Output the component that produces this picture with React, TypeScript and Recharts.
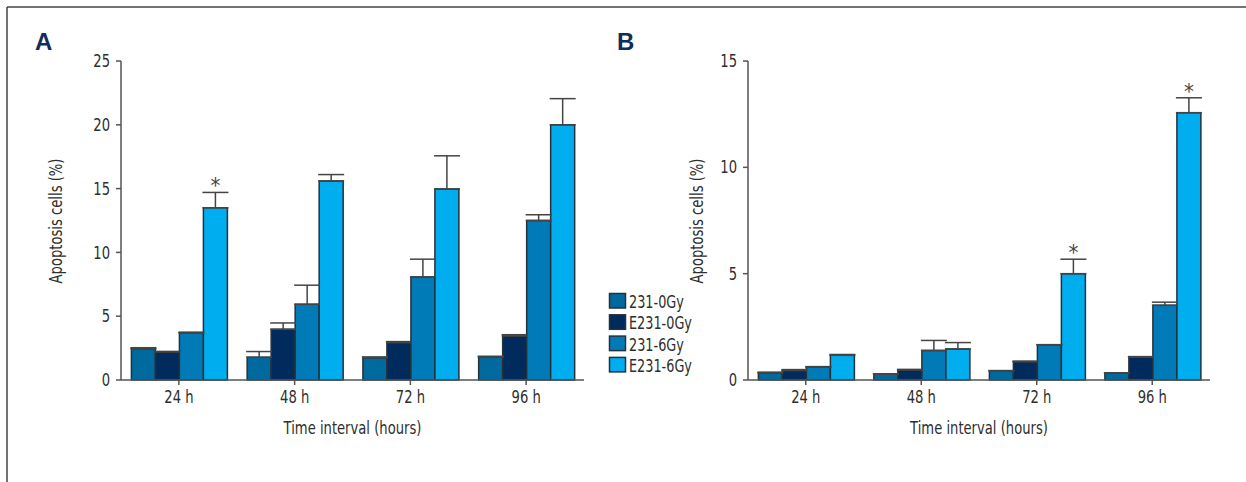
import React from 'react';
import { BarChart, Bar, XAxis, YAxis, ErrorBar, LabelList } from 'recharts';

const categories = ['24 h', '48 h', '72 h', '96 h'];
const seriesNames = ['231-0Gy', 'E231-0Gy', '231-6Gy', 'E231-6Gy'];
const seriesColors = ['#006a9e', '#002b5c', '#007bb7', '#00aeef'];

// Panel A values (mean) and upper error (SD)
const a231_0 = [2.45, 1.78, 1.75, 1.8];
const aE231_0 = [2.2, 3.97, 2.93, 3.45];
const a231_6 = [3.7, 5.93, 8.07, 12.5];
const aE231_6 = [13.5, 15.6, 14.97, 20.0];
const a231_0Err = [0.08, 0.45, 0.06, 0.06];
const aE231_0Err = [0.04, 0.5, 0.08, 0.1];
const a231_6Err = [0.05, 1.5, 1.4, 0.45];
const aE231_6Err = [1.2, 0.5, 2.6, 2.05];
const starsA = ['*', '', '', ''];
const ticksA = [0, 5, 10, 15, 20, 25];

// Panel B values
const b231_0 = [0.34, 0.27, 0.44, 0.34];
const bE231_0 = [0.45, 0.47, 0.86, 1.07];
const b231_6 = [0.6, 1.39, 1.66, 3.51];
const bE231_6 = [1.16, 1.46, 5.0, 12.57];
const b231_0Err = [0.03, 0.02, 0, 0];
const bE231_0Err = [0.04, 0.03, 0.03, 0.03];
const b231_6Err = [0.03, 0.47, 0, 0.15];
const bE231_6Err = [0.04, 0.3, 0.68, 0.7];
const starsB = ['', '', '*', '*'];
const ticksB = [0, 5, 10, 15];

const yTitle = 'Apoptosis cells (%)';
const xTitle = 'Time interval (hours)';

const FONT = "'DejaVu Sans Condensed', 'Liberation Sans Narrow', 'Arial Narrow', sans-serif";
const TEXT = '#2e2e2e';
const AXIS = '#555';
const SQUEEZE = 0.86;

type Row = { [k: string]: any };

function makeRows(vals: number[][], errs: number[][], stars: string[]): Row[] {
  return categories.map((c, i) => {
    const r: Row = { cat: c, star: stars[i] };
    vals.forEach((v, k) => {
      r[`v${k}`] = v[i];
      r[`e${k}`] = [0, errs[k][i]];
    });
    return r;
  });
}

const rowsA = makeRows([a231_0, aE231_0, a231_6, aE231_6], [a231_0Err, aE231_0Err, a231_6Err, aE231_6Err], starsA);
const rowsB = makeRows([b231_0, bE231_0, b231_6, bE231_6], [b231_0Err, bE231_0Err, b231_6Err, bE231_6Err], starsB);

const CHART_H = 482;
const TOP = 61;
const BOTTOM = 72;
const XH = 30;
const PLOT_H = CHART_H - TOP - BOTTOM - XH;

function XTick(p: any) {
  return (
    <g transform={`translate(${p.x},${p.y})`}>
      <text transform={`scale(${SQUEEZE},1)`} textAnchor="middle" dy="0.75em" fontSize={17} fill={TEXT} fontFamily={FONT}>
        {p.payload.value}
      </text>
    </g>
  );
}

function YTick(p: any) {
  return (
    <g transform={`translate(${p.x},${p.y})`}>
      <text transform={`scale(${SQUEEZE},1)`} textAnchor="end" dy="0.36em" fontSize={17} fill={TEXT} fontFamily={FONT}>
        {p.payload.value}
      </text>
    </g>
  );
}

function Panel(props: {
  rows: Row[];
  errs: number[];
  ticks: number[];
  width: number;
  left: number;
  right: number;
}) {
  const { rows, errs, ticks, width, left, right } = props;
  const max = ticks[ticks.length - 1];
  const renderStar = (p: any) => {
    const { x, y, width: w, value, index } = p;
    if (!value) return null;
    const errPx = (errs[index] * PLOT_H) / max;
    return (
      <text x={Number(x) + Number(w) / 2} y={Number(y) - errPx + 1} textAnchor="middle" fontSize={22} fill="#444" fontFamily={FONT}>
        {value}
      </text>
    );
  };
  return (
    <BarChart
      width={width}
      height={CHART_H}
      data={rows}
      margin={{ top: TOP, right, bottom: BOTTOM, left }}
      barCategoryGap="9%"
      barGap={0}
    >
      <XAxis
        dataKey="cat"
        height={XH}
        tickSize={5}
        tickMargin={5}
        axisLine={{ stroke: AXIS, strokeWidth: 1.5 }}
        tickLine={{ stroke: AXIS, strokeWidth: 1.5 }}
        tick={<XTick />}
      />
      <YAxis
        width={40}
        domain={[0, max]}
        ticks={ticks}
        tickSize={5}
        tickMargin={6}
        axisLine={{ stroke: AXIS, strokeWidth: 1.5 }}
        tickLine={{ stroke: AXIS, strokeWidth: 1.5 }}
        tick={<YTick />}
      />
      {seriesNames.map((name, k) => (
        <Bar
          key={name}
          name={name}
          dataKey={`v${k}`}
          fill={seriesColors[k]}
          stroke="#26313a"
          strokeWidth={1.5}
          isAnimationActive={false}
        >
          <ErrorBar dataKey={`e${k}`} width={13} stroke="#444" strokeWidth={1.5} direction="y" />
          {k === 3 ? <LabelList dataKey="star" content={renderStar} /> : null}
        </Bar>
      ))}
    </BarChart>
  );
}

function Title(p: { x: number; y: number; rotate?: boolean; children: string }) {
  const t = p.rotate ? `translate(${p.x},${p.y}) rotate(-90) scale(${SQUEEZE},1)` : `translate(${p.x},${p.y}) scale(${SQUEEZE},1)`;
  return (
    <text transform={t} textAnchor="middle" dy={p.rotate ? '0.36em' : 0} fontSize={17} fill={TEXT} fontFamily={FONT}>
      {p.children}
    </text>
  );
}

export default function App() {
  return (
    <div style={{ position: 'absolute', left: 0, top: 0, width: 1246, height: 482, background: '#fff', overflow: 'hidden' }}>
      <div style={{ position: 'absolute', left: 0, top: 0 }}>
        <Panel rows={rowsA} errs={aE231_6Err} ticks={ticksA} width={600} left={81} right={16} />
      </div>
      <div style={{ position: 'absolute', left: 600, top: 0 }}>
        <Panel rows={rowsB} errs={bE231_6Err} ticks={ticksB} width={646} left={108} right={36} />
      </div>
      <svg width={1246} height={482} style={{ position: 'absolute', left: 0, top: 0, pointerEvents: 'none' }}>
        <line x1={7} y1={7} x2={1246} y2={7} stroke="#444" strokeWidth={1.5} />
        <line x1={7} y1={7} x2={7} y2={482} stroke="#444" strokeWidth={1.5} />
        <text x={35} y={49.5} fontSize={24} fontWeight="bold" fill="#0f2d5c" fontFamily="'Liberation Sans', Arial, sans-serif">A</text>
        <text x={617} y={49.5} fontSize={24} fontWeight="bold" fill="#0f2d5c" fontFamily="'Liberation Sans', Arial, sans-serif">B</text>
        <Title x={352.5} y={434}>{xTitle}</Title>
        <Title x={979} y={434}>{xTitle}</Title>
        <Title x={56} y={221} rotate>{yTitle}</Title>
        <Title x={697} y={221} rotate>{yTitle}</Title>
        {seriesNames.map((name, i) => (
          <g key={name}>
            <rect x={609.5} y={293.5 + i * 21.3} width={16} height={14.5} fill={seriesColors[i]} stroke="#26313a" strokeWidth={1.5} />
            <text transform={`translate(629,${308 + i * 21.3}) scale(0.84,1)`} fontSize={17} fill={TEXT} fontFamily={FONT}>{name}</text>
          </g>
        ))}
      </svg>
    </div>
  );
}
